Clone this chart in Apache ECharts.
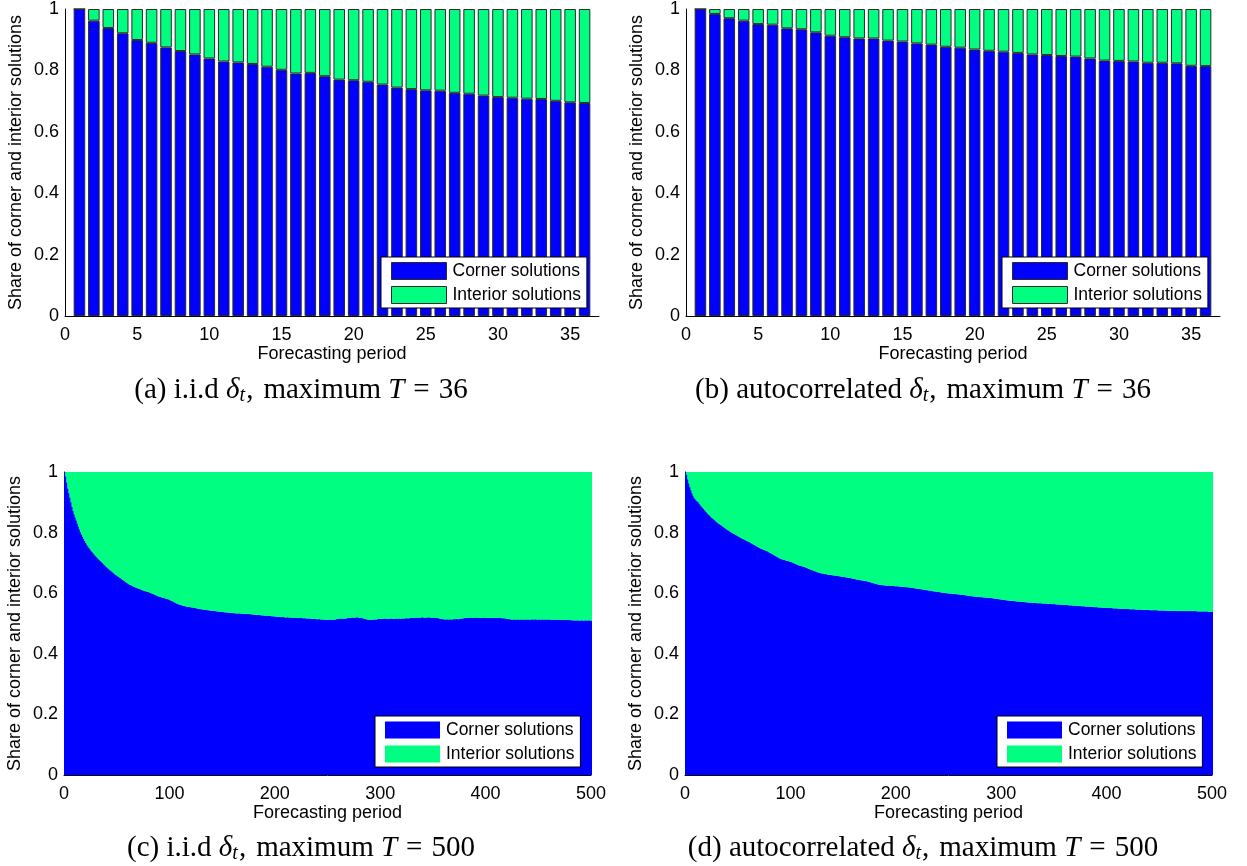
<!DOCTYPE html>
<html>
<head>
<meta charset="utf-8">
<script src="https://cdn.jsdelivr.net/npm/echarts@6/dist/echarts.min.js"></script>
<style>
html,body{margin:0;padding:0;background:#fff;}
#chart{width:1247px;height:866px;}
</style>
</head>
<body>
<div id="chart"></div>
<script>
// ---------- DATA ----------
const seriesNames = ['Corner solutions', 'Interior solutions'];
const xTitle = 'Forecasting period';
const yTitle = 'Share of corner and interior solutions';

// (a) i.i.d, T = 36 : share of corner solutions
const cornerA = [1.000, 0.962, 0.938, 0.921, 0.899, 0.890, 0.875, 0.863, 0.852, 0.839,
  0.829, 0.826, 0.821, 0.812, 0.802, 0.790, 0.792, 0.781, 0.770, 0.768,
  0.763, 0.754, 0.744, 0.739, 0.735, 0.734, 0.727, 0.724, 0.718, 0.713,
  0.711, 0.708, 0.707, 0.701, 0.696, 0.694];

// (b) autocorrelated, T = 36
const cornerB = [1.000, 0.984, 0.970, 0.962, 0.951, 0.949, 0.937, 0.934, 0.924, 0.913,
  0.908, 0.904, 0.904, 0.897, 0.894, 0.888, 0.884, 0.877, 0.874, 0.868,
  0.864, 0.861, 0.857, 0.852, 0.850, 0.847, 0.845, 0.839, 0.832, 0.831,
  0.829, 0.825, 0.825, 0.823, 0.815, 0.814];

// (c) i.i.d, T = 500
const cornerC = [
  1.000, 0.985, 0.965, 0.945, 0.930, 0.915, 0.900, 0.885, 0.872, 0.860,
  0.850, 0.840, 0.830, 0.820, 0.810, 0.801, 0.793, 0.786, 0.779, 0.772,
  0.766, 0.760, 0.755, 0.750, 0.745, 0.740, 0.736, 0.732, 0.728, 0.724,
  0.720, 0.716, 0.712, 0.709, 0.706, 0.702, 0.699, 0.695, 0.692, 0.688,
  0.685, 0.682, 0.679, 0.676, 0.673, 0.670, 0.667, 0.664, 0.661, 0.659,
  0.656, 0.654, 0.651, 0.649, 0.646, 0.644, 0.641, 0.639, 0.636, 0.634,
  0.631, 0.629, 0.627, 0.626, 0.624, 0.622, 0.621, 0.619, 0.618, 0.616,
  0.615, 0.614, 0.612, 0.611, 0.609, 0.608, 0.607, 0.606, 0.605, 0.604,
  0.603, 0.601, 0.600, 0.598, 0.597, 0.595, 0.594, 0.592, 0.591, 0.589,
  0.588, 0.587, 0.586, 0.585, 0.584, 0.583, 0.582, 0.581, 0.580, 0.579,
  0.577, 0.575, 0.574, 0.572, 0.570, 0.568, 0.566, 0.565, 0.563, 0.562,
  0.561, 0.560, 0.559, 0.558, 0.557, 0.556, 0.556, 0.555, 0.555, 0.554,
  0.553, 0.553, 0.552, 0.551, 0.551, 0.550, 0.549, 0.549, 0.548, 0.547,
  0.547, 0.546, 0.546, 0.545, 0.545, 0.544, 0.544, 0.543, 0.543, 0.542,
  0.542, 0.542, 0.541, 0.541, 0.540, 0.540, 0.539, 0.539, 0.539, 0.538,
  0.538, 0.537, 0.537, 0.537, 0.536, 0.536, 0.536, 0.535, 0.535, 0.535,
  0.534, 0.534, 0.534, 0.533, 0.533, 0.534, 0.533, 0.533, 0.532, 0.532,
  0.532, 0.532, 0.531, 0.533, 0.532, 0.531, 0.531, 0.530, 0.530, 0.530,
  0.529, 0.529, 0.529, 0.528, 0.528, 0.528, 0.527, 0.527, 0.527, 0.526,
  0.526, 0.526, 0.526, 0.525, 0.525, 0.525, 0.524, 0.524, 0.524, 0.523,
  0.523, 0.523, 0.522, 0.522, 0.522, 0.521, 0.522, 0.521, 0.521, 0.520,
  0.520, 0.521, 0.520, 0.520, 0.519, 0.520, 0.519, 0.519, 0.520, 0.519,
  0.518, 0.519, 0.518, 0.518, 0.519, 0.518, 0.517, 0.518, 0.517, 0.517,
  0.517, 0.516, 0.517, 0.516, 0.516, 0.515, 0.516, 0.515, 0.515, 0.514,
  0.514, 0.515, 0.514, 0.513, 0.514, 0.513, 0.513, 0.512, 0.513, 0.512,
  0.513, 0.513, 0.512, 0.513, 0.513, 0.512, 0.513, 0.514, 0.515, 0.516,
  0.516, 0.516, 0.517, 0.516, 0.516, 0.517, 0.516, 0.517, 0.518, 0.518,
  0.519, 0.519, 0.520, 0.520, 0.519, 0.520, 0.520, 0.521, 0.520, 0.519,
  0.520, 0.519, 0.518, 0.517, 0.516, 0.515, 0.514, 0.513, 0.513, 0.512,
  0.513, 0.513, 0.512, 0.513, 0.514, 0.513, 0.514, 0.515, 0.515, 0.516,
  0.516, 0.515, 0.516, 0.517, 0.516, 0.516, 0.515, 0.516, 0.516, 0.517,
  0.516, 0.516, 0.515, 0.516, 0.517, 0.516, 0.516, 0.517, 0.516, 0.516,
  0.517, 0.516, 0.517, 0.517, 0.518, 0.517, 0.517, 0.518, 0.518, 0.519,
  0.519, 0.518, 0.519, 0.520, 0.519, 0.519, 0.520, 0.519, 0.520, 0.521,
  0.520, 0.519, 0.520, 0.519, 0.520, 0.521, 0.520, 0.519, 0.520, 0.519,
  0.519, 0.520, 0.519, 0.518, 0.518, 0.517, 0.516, 0.515, 0.515, 0.514,
  0.514, 0.513, 0.514, 0.514, 0.513, 0.514, 0.514, 0.513, 0.514, 0.515,
  0.514, 0.515, 0.515, 0.514, 0.515, 0.516, 0.516, 0.517, 0.517, 0.518,
  0.518, 0.519, 0.518, 0.519, 0.520, 0.519, 0.520, 0.519, 0.519, 0.520,
  0.519, 0.520, 0.519, 0.519, 0.518, 0.519, 0.519, 0.520, 0.519, 0.519,
  0.518, 0.519, 0.519, 0.518, 0.519, 0.518, 0.519, 0.518, 0.518, 0.519,
  0.518, 0.518, 0.519, 0.518, 0.518, 0.517, 0.518, 0.517, 0.517, 0.516,
  0.516, 0.515, 0.514, 0.514, 0.513, 0.513, 0.514, 0.513, 0.513, 0.514,
  0.513, 0.513, 0.514, 0.513, 0.513, 0.514, 0.513, 0.513, 0.514, 0.513,
  0.514, 0.513, 0.513, 0.514, 0.514, 0.513, 0.514, 0.514, 0.513, 0.513,
  0.514, 0.513, 0.513, 0.514, 0.513, 0.513, 0.514, 0.513, 0.513, 0.514,
  0.513, 0.513, 0.512, 0.513, 0.513, 0.512, 0.513, 0.513, 0.512, 0.513,
  0.513, 0.512, 0.513, 0.512, 0.512, 0.513, 0.512, 0.512, 0.512, 0.511,
  0.511, 0.511, 0.510, 0.511, 0.510, 0.510, 0.511, 0.510, 0.510, 0.510,
  0.511, 0.510, 0.510, 0.510, 0.511, 0.510, 0.510, 0.511, 0.510, 0.510];

// (d) autocorrelated, T = 500
const cornerD = [
  1.000, 0.990, 0.975, 0.962, 0.950, 0.940, 0.930, 0.922, 0.915, 0.910,
  0.906, 0.903, 0.900, 0.895, 0.890, 0.886, 0.882, 0.878, 0.874, 0.870,
  0.866, 0.862, 0.858, 0.855, 0.851, 0.848, 0.845, 0.842, 0.839, 0.836,
  0.833, 0.830, 0.828, 0.825, 0.823, 0.820, 0.818, 0.815, 0.813, 0.810,
  0.808, 0.806, 0.803, 0.801, 0.799, 0.797, 0.795, 0.793, 0.791, 0.789,
  0.787, 0.785, 0.783, 0.781, 0.779, 0.778, 0.776, 0.774, 0.772, 0.771,
  0.769, 0.767, 0.765, 0.763, 0.761, 0.759, 0.757, 0.755, 0.753, 0.751,
  0.749, 0.747, 0.746, 0.744, 0.743, 0.742, 0.740, 0.739, 0.737, 0.735,
  0.733, 0.731, 0.729, 0.727, 0.725, 0.723, 0.721, 0.719, 0.717, 0.715,
  0.713, 0.712, 0.711, 0.710, 0.709, 0.708, 0.707, 0.706, 0.705, 0.704,
  0.703, 0.701, 0.700, 0.698, 0.697, 0.695, 0.694, 0.692, 0.691, 0.690,
  0.689, 0.688, 0.687, 0.686, 0.684, 0.683, 0.681, 0.680, 0.678, 0.677,
  0.676, 0.674, 0.673, 0.672, 0.670, 0.669, 0.668, 0.667, 0.666, 0.665,
  0.665, 0.664, 0.663, 0.663, 0.662, 0.661, 0.661, 0.660, 0.660, 0.659,
  0.659, 0.658, 0.658, 0.657, 0.657, 0.656, 0.656, 0.655, 0.655, 0.654,
  0.654, 0.653, 0.652, 0.652, 0.651, 0.650, 0.650, 0.649, 0.648, 0.647,
  0.647, 0.646, 0.645, 0.645, 0.644, 0.643, 0.643, 0.642, 0.641, 0.641,
  0.640, 0.640, 0.639, 0.638, 0.637, 0.636, 0.635, 0.634, 0.633, 0.632,
  0.631, 0.630, 0.629, 0.628, 0.628, 0.627, 0.627, 0.626, 0.626, 0.626,
  0.625, 0.625, 0.625, 0.625, 0.624, 0.624, 0.624, 0.624, 0.623, 0.623,
  0.623, 0.623, 0.622, 0.622, 0.622, 0.621, 0.621, 0.621, 0.620, 0.620,
  0.620, 0.619, 0.619, 0.618, 0.618, 0.617, 0.617, 0.616, 0.616, 0.615,
  0.615, 0.614, 0.614, 0.613, 0.613, 0.612, 0.612, 0.611, 0.610, 0.610,
  0.609, 0.609, 0.608, 0.608, 0.607, 0.606, 0.606, 0.605, 0.605, 0.604,
  0.604, 0.603, 0.603, 0.602, 0.602, 0.601, 0.601, 0.600, 0.600, 0.599,
  0.599, 0.599, 0.598, 0.598, 0.598, 0.597, 0.597, 0.597, 0.596, 0.596,
  0.596, 0.595, 0.595, 0.594, 0.594, 0.593, 0.593, 0.592, 0.592, 0.591,
  0.591, 0.590, 0.590, 0.589, 0.589, 0.589, 0.588, 0.588, 0.588, 0.587,
  0.587, 0.587, 0.586, 0.586, 0.586, 0.585, 0.585, 0.585, 0.584, 0.584,
  0.584, 0.583, 0.583, 0.582, 0.582, 0.581, 0.581, 0.580, 0.580, 0.579,
  0.579, 0.578, 0.578, 0.577, 0.577, 0.576, 0.576, 0.575, 0.575, 0.575,
  0.574, 0.574, 0.574, 0.573, 0.573, 0.573, 0.572, 0.572, 0.572, 0.571,
  0.571, 0.571, 0.570, 0.570, 0.570, 0.569, 0.569, 0.569, 0.569, 0.568,
  0.568, 0.568, 0.568, 0.567, 0.567, 0.567, 0.567, 0.567, 0.566, 0.566,
  0.566, 0.566, 0.566, 0.565, 0.565, 0.565, 0.565, 0.564, 0.564, 0.564,
  0.564, 0.563, 0.563, 0.563, 0.563, 0.562, 0.562, 0.562, 0.562, 0.561,
  0.561, 0.561, 0.561, 0.560, 0.560, 0.560, 0.560, 0.559, 0.559, 0.559,
  0.559, 0.558, 0.558, 0.558, 0.558, 0.557, 0.557, 0.557, 0.557, 0.556,
  0.556, 0.556, 0.556, 0.555, 0.555, 0.555, 0.555, 0.554, 0.554, 0.554,
  0.554, 0.553, 0.553, 0.553, 0.553, 0.552, 0.552, 0.552, 0.552, 0.552,
  0.551, 0.551, 0.551, 0.551, 0.551, 0.550, 0.550, 0.550, 0.550, 0.550,
  0.549, 0.549, 0.549, 0.549, 0.549, 0.548, 0.548, 0.548, 0.548, 0.548,
  0.548, 0.547, 0.547, 0.547, 0.547, 0.547, 0.547, 0.546, 0.546, 0.546,
  0.546, 0.546, 0.546, 0.545, 0.545, 0.545, 0.545, 0.545, 0.545, 0.545,
  0.544, 0.544, 0.544, 0.544, 0.544, 0.544, 0.544, 0.544, 0.543, 0.543,
  0.543, 0.543, 0.543, 0.543, 0.543, 0.542, 0.542, 0.542, 0.542, 0.542,
  0.542, 0.542, 0.542, 0.542, 0.542, 0.541, 0.541, 0.541, 0.541, 0.541,
  0.541, 0.541, 0.541, 0.541, 0.541, 0.541, 0.541, 0.541, 0.541, 0.541,
  0.541, 0.541, 0.541, 0.541, 0.541, 0.540, 0.540, 0.540, 0.540, 0.540,
  0.540, 0.540, 0.540, 0.540, 0.540, 0.540, 0.539, 0.539, 0.539, 0.538];

const captions = [
  '(a) i.i.d {m|δ}{s|t}{c|,}maximum {m|T}{e|=}36',
  '(b) autocorrelated {m|δ}{s|t}{c|,}maximum {m|T}{e|=}36',
  '(c) i.i.d {m|δ}{s|t}{c|,}maximum {m|T}{e|=}500',
  '(d) autocorrelated {m|δ}{s|t}{c|,}maximum {m|T}{e|=}500'
];

// ---------- BUILD ----------
const SANS = '"Liberation Sans", Arial, Helvetica, sans-serif';
const SERIF = '"Liberation Serif", "Times New Roman", serif';
const BLUE = '#0000ff';
const GREEN = '#00ff80';

// x positions 0 .. xmax (category slots placed exactly on the integers)
const panels = [
  {corner: cornerA, grid: {left: 65, top: 9, width: 534, height: 307}, xmax: 37, step: 5, lastLabel: 35, small: true},
  {corner: cornerB, grid: {left: 686, top: 9, width: 534, height: 307}, xmax: 37, step: 5, lastLabel: 35, small: true},
  {corner: cornerC, grid: {left: 64, top: 472, width: 527, height: 303}, xmax: 500, step: 100, lastLabel: 500, small: false},
  {corner: cornerD, grid: {left: 685, top: 472, width: 527, height: 303}, xmax: 500, step: 100, lastLabel: 500, small: false}
];

const option = {
  animation: false,
  backgroundColor: '#fff',
  grid: [], xAxis: [], yAxis: [], series: [], legend: [], graphic: []
};

panels.forEach((p, i) => {
  option.grid.push(Object.assign({containLabel: false}, p.grid));
  const slots = [];
  for (let k = 0; k <= p.xmax; k++) slots.push(String(k));
  option.xAxis.push({
    type: 'category', gridIndex: i, data: slots, boundaryGap: false,
    name: xTitle, nameLocation: 'middle', nameGap: 28,
    nameTextStyle: {fontFamily: SANS, fontSize: 18, color: '#000'},
    axisLine: {show: true, onZero: false, lineStyle: {color: '#000', width: 1}},
    axisTick: {show: false},
    splitLine: {show: false},
    axisLabel: {
      fontFamily: SANS, fontSize: 18, color: '#000', margin: 10,
      interval: 0, hideOverlap: false,
      formatter: (v) => { const n = +v; return (n % p.step === 0 && n <= p.lastLabel) ? v : ''; }
    }
  });
  option.yAxis.push({
    type: 'value', gridIndex: i, min: 0, max: 1, interval: 0.2,
    name: yTitle, nameLocation: 'middle', nameGap: 40,
    nameTextStyle: {fontFamily: SANS, fontSize: 18, color: '#000'},
    axisLine: {show: true, lineStyle: {color: '#000', width: 1}},
    axisTick: {show: false},
    splitLine: {show: false},
    axisLabel: {fontFamily: SANS, fontSize: 18, color: '#000', margin: 6}
  });
  const cornerData = [null].concat(p.corner);
  const interiorData = [null].concat(p.corner.map(v => +(1 - v).toFixed(3)));
  while (cornerData.length < slots.length) { cornerData.push(null); interiorData.push(null); }
  const border = p.small ? {borderColor: '#2a2a2a', borderWidth: 1} : {borderWidth: 0};
  const bw = p.small ? '80%' : 2;
  option.series.push({
    type: 'bar', name: seriesNames[0], xAxisIndex: i, yAxisIndex: i, stack: 's' + i,
    barWidth: bw,
    itemStyle: Object.assign({color: BLUE}, border),
    data: cornerData, clip: true
  });
  option.series.push({
    type: 'bar', name: seriesNames[1], xAxisIndex: i, yAxisIndex: i, stack: 's' + i,
    barWidth: bw,
    itemStyle: Object.assign({color: GREEN}, border),
    data: interiorData, clip: true
  });
});

const legendPos = [
  {left: 381, top: 257, small: true},
  {left: 1002, top: 257, small: true},
  {left: 375, top: 716, small: false},
  {left: 997, top: 716, small: false}
];
legendPos.forEach(l => {
  option.legend.push({
    left: l.left, top: l.top, orient: 'vertical',
    data: seriesNames, icon: 'rect',
    itemWidth: 55, itemHeight: 17, itemGap: 6,
    padding: [5, 6, 4, 10],
    borderColor: '#000', borderWidth: 1, backgroundColor: '#fff',
    selectedMode: false,
    itemStyle: l.small ? {borderColor: '#2a2a2a', borderWidth: 1} : {borderWidth: 0},
    textStyle: {fontFamily: SANS, fontSize: 17.5, color: '#000', padding: [0, 0, 0, 1]}
  });
});

const capPos = [[301, 390], [923, 390], [301, 848], [923, 848]];
captions.forEach((c, i) => {
  option.graphic.push({
    type: 'text', x: capPos[i][0], y: capPos[i][1], silent: true,
    style: {
      text: c, align: 'center', verticalAlign: 'middle', fill: '#000',
      fontFamily: SERIF, fontSize: 29,
      rich: {
        m: {fontFamily: SERIF, fontSize: 29, fontStyle: 'italic', fill: '#000'},
        s: {fontFamily: SERIF, fontSize: 20, fontStyle: 'italic', fill: '#000', padding: [12, 1, 0, 0]},
        c: {fontFamily: SERIF, fontSize: 29, fill: '#000', padding: [0, 10, 0, 0]},
        e: {fontFamily: SERIF, fontSize: 29, fill: '#000', padding: [0, 9, 0, 9]}
      }
    }
  });
});

const chart = echarts.init(document.getElementById('chart'), null, {renderer: 'canvas'});
chart.setOption(option);
</script>
</body>
</html>
